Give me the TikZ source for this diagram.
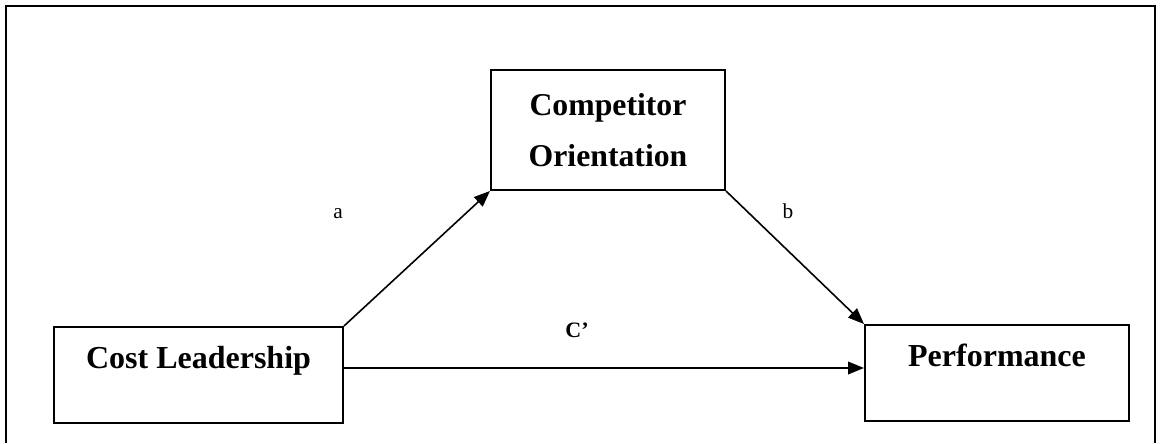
\documentclass[tikz,border=0pt]{standalone}
\usepackage{fontspec}
\setmainfont{Liberation Serif}
\usetikzlibrary{arrows.meta,positioning}
\tikzset{
 frame/.style={draw=black,line width=1.5pt},
 varbox/.style={draw=black,line width=1.5pt,align=center,inner sep=0pt},
 endbox/.style={varbox,text height=30.75pt,text depth=41.25pt,
   font=\bfseries\fontsize{24}{28}\selectfont},
 midbox/.style={varbox,minimum width=175.5pt,minimum height=90pt,
   font=\bfseries\fontsize{23.8}{27}\selectfont},
 arr/.style={-{Triangle[length=12pt,width=9.5pt]},line width=1.2pt,draw=black},
 path label/.style={font=\fontsize{16}{19}\selectfont,inner sep=0pt,anchor=base}
}
\begin{document}
\begin{tikzpicture}[x=0.75pt,y=-0.75pt]
\useasboundingbox (0,0) rectangle (1160,443);
% outer frame, open at the bottom
\draw[frame] (6,443) -- (6,6) -- (1155,6) -- (1155,443);
\node[endbox,minimum width=216.75pt] (cost) at (198.5,375) {Cost Leadership};
\node[midbox] (comp) at (608,130) {Competitor\\[11pt]Orientation};
\node[endbox,minimum width=198pt] (perf) at (997,373) {Performance};
\draw[arr] (cost.north east) -- (comp.south west);
\draw[arr] (comp.south east) -- (perf.north west);
\draw[arr] (cost.base east) -- (cost.base east -| perf.west);
\node[path label] (a) at (338,218) {a};
\node[path label] (b) at (788,218) {b};
\node[path label,font=\bfseries\fontsize{16.5}{20}\selectfont] (c) at (577,337) {C’};
\end{tikzpicture}
\end{document}
